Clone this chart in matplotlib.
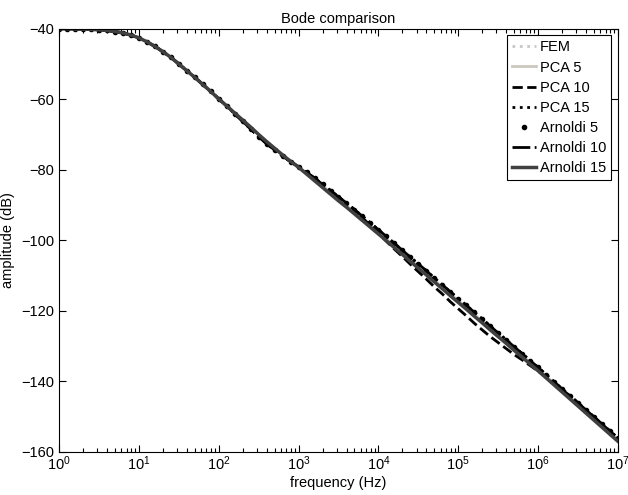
import numpy as np
import matplotlib
matplotlib.use("Agg")
import matplotlib.pyplot as plt

plt.rcParams["font.family"] = ["Liberation Sans", "DejaVu Sans"]
plt.rcParams["mathtext.fontset"] = "custom"
plt.rcParams["mathtext.rm"] = "Liberation Sans"
plt.rcParams["mathtext.it"] = "Liberation Sans:italic"

# frequency grid: 10^0 .. 10^7, 0.1 decade steps
log_freq = np.round(np.arange(0, 7.01, 0.1), 1)
freq = 10 ** log_freq

# amplitude (dB)
amp_arnoldi15 = [
    -40.0, -40.0, -40.1, -40.1, -40.2, -40.3, -40.5, -40.8, -41.2, -41.8,
    -42.6, -43.7, -45.0, -46.5, -48.1, -50.0, -51.9, -53.8, -55.8, -57.8,
    -59.9, -61.9, -63.9, -65.9, -67.9, -70.0, -72.0, -73.9, -75.8, -77.6,
    -79.3, -81.2, -83.1, -85.0, -86.9, -88.8, -90.6, -92.5, -94.4, -96.3,
    -98.2, -100.1, -102.1, -104.0, -106.0, -107.9, -109.8, -111.8, -113.7, -115.7,
    -117.6, -119.5, -121.5, -123.4, -125.4, -127.3, -129.2, -131.2, -133.1, -135.1,
    -137.0, -139.0, -141.0, -143.0, -145.0, -147.0, -149.0, -151.0, -153.0, -155.0,
    -157.0]

amp_fem = [
    -40.0, -40.0, -40.1, -40.1, -40.2, -40.3, -40.5, -40.8, -41.2, -41.8,
    -42.6, -43.7, -45.0, -46.5, -48.1, -50.0, -51.9, -53.8, -55.8, -57.8,
    -59.9, -61.9, -64.1, -66.3, -68.4, -70.6, -72.6, -74.4, -76.1, -77.7,
    -79.1, -80.7, -82.4, -84.1, -85.9, -87.7, -89.4, -91.3, -93.2, -95.1,
    -97.0, -98.9, -100.9, -102.8, -104.8, -106.7, -108.6, -110.7, -112.6, -114.6,
    -116.5, -118.4, -120.4, -122.3, -124.3, -126.3, -128.2, -130.2, -132.1, -134.1,
    -136.0, -138.1, -140.1, -142.1, -144.1, -146.1, -148.1, -150.1, -152.1, -154.1,
    -156.1]

amp_pca5 = [
    -40.0, -40.0, -40.1, -40.1, -40.2, -40.3, -40.5, -40.8, -41.2, -41.8,
    -42.6, -43.7, -45.0, -46.5, -48.1, -50.0, -51.9, -53.8, -55.8, -57.8,
    -59.9, -61.9, -63.9, -65.9, -67.9, -70.0, -72.0, -73.9, -75.8, -77.6,
    -79.1, -80.9, -82.7, -84.5, -86.4, -88.3, -90.1, -92.0, -93.9, -95.8,
    -97.7, -99.6, -101.6, -103.5, -105.5, -107.4, -109.3, -111.3, -113.2, -115.2,
    -117.1, -119.0, -121.0, -122.9, -124.9, -126.8, -128.7, -130.7, -132.6, -134.6,
    -136.5, -138.5, -140.5, -142.5, -144.5, -146.5, -148.5, -150.5, -152.5, -154.5,
    -156.5]

amp_pca10 = [
    -40.0, -40.0, -40.1, -40.1, -40.2, -40.3, -40.5, -40.8, -41.2, -41.8,
    -42.6, -43.7, -45.0, -46.5, -48.1, -50.0, -51.9, -53.8, -55.8, -57.8,
    -59.9, -61.9, -64.1, -66.3, -68.4, -70.6, -72.6, -74.4, -76.1, -77.7,
    -79.1, -80.7, -82.4, -84.1, -85.9, -87.7, -89.4, -91.3, -93.6, -95.8,
    -98.1, -100.3, -102.5, -104.6, -106.8, -108.9, -111.0, -113.2, -115.2, -117.4,
    -119.4, -121.4, -123.5, -125.4, -127.3, -129.0, -130.7, -132.4, -133.9, -135.5,
    -137.1, -138.7, -140.5, -142.3, -144.1, -146.1, -148.1, -150.1, -152.1, -154.1,
    -156.1]

# these three sit on the FEM curve at this resolution
amp_pca15 = amp_fem
amp_arnoldi5 = amp_fem
amp_arnoldi10 = amp_fem

labels = ["FEM", "PCA 5", "PCA 10", "PCA 15", "Arnoldi 5", "Arnoldi 10", "Arnoldi 15"]
series = [amp_fem, amp_pca5, amp_pca10, amp_pca15, amp_arnoldi5, amp_arnoldi10, amp_arnoldi15]
styles = [
    dict(color="#c8c8c8", ls=":", lw=2),
    dict(color="#ccc8c0", ls="-", lw=2),
    dict(color="black", ls="--", lw=2),
    dict(color="black", ls=":", lw=2),
    dict(color="black", ls="none", marker=".", ms=6),
    dict(color="black", ls="-.", lw=2),
    dict(color="#404040", ls="-", lw=2.5),
]

fig = plt.figure(figsize=(6.28, 4.95), dpi=100)
ax = fig.add_axes([0.094, 0.087, 0.890, 0.855])
for lab, y, st in zip(labels, series, styles):
    ax.semilogx(freq, y, label=lab, **st)

ax.set_xlim(1, 1e7)
ax.set_ylim(-160, -40)
ax.set_yticks(range(-160, -39, 20))
ax.tick_params(which="both", direction="in", top=True, right=True, labelsize=10.5, width=0.8)
ax.tick_params(which="major", length=5)
ax.tick_params(which="minor", length=3)
ax.tick_params(axis="x", pad=2)
for s in ax.spines.values():
    s.set_linewidth(0.8)

ax.set_title("Bode comparison", fontsize=10.5, pad=4)
ax.set_xlabel("frequency (Hz)", fontsize=10.5, labelpad=2)
ax.set_ylabel("amplitude (dB)", fontsize=10.5, labelpad=4)

leg = ax.legend(loc="upper right", fontsize=10.5, handlelength=1.6, handletextpad=0.3,
                borderpad=0.35, labelspacing=0.42, borderaxespad=0.45, fancybox=False,
                framealpha=1, edgecolor="black")
leg.get_frame().set_linewidth(0.8)

fig.savefig("out.png", dpi=100)
